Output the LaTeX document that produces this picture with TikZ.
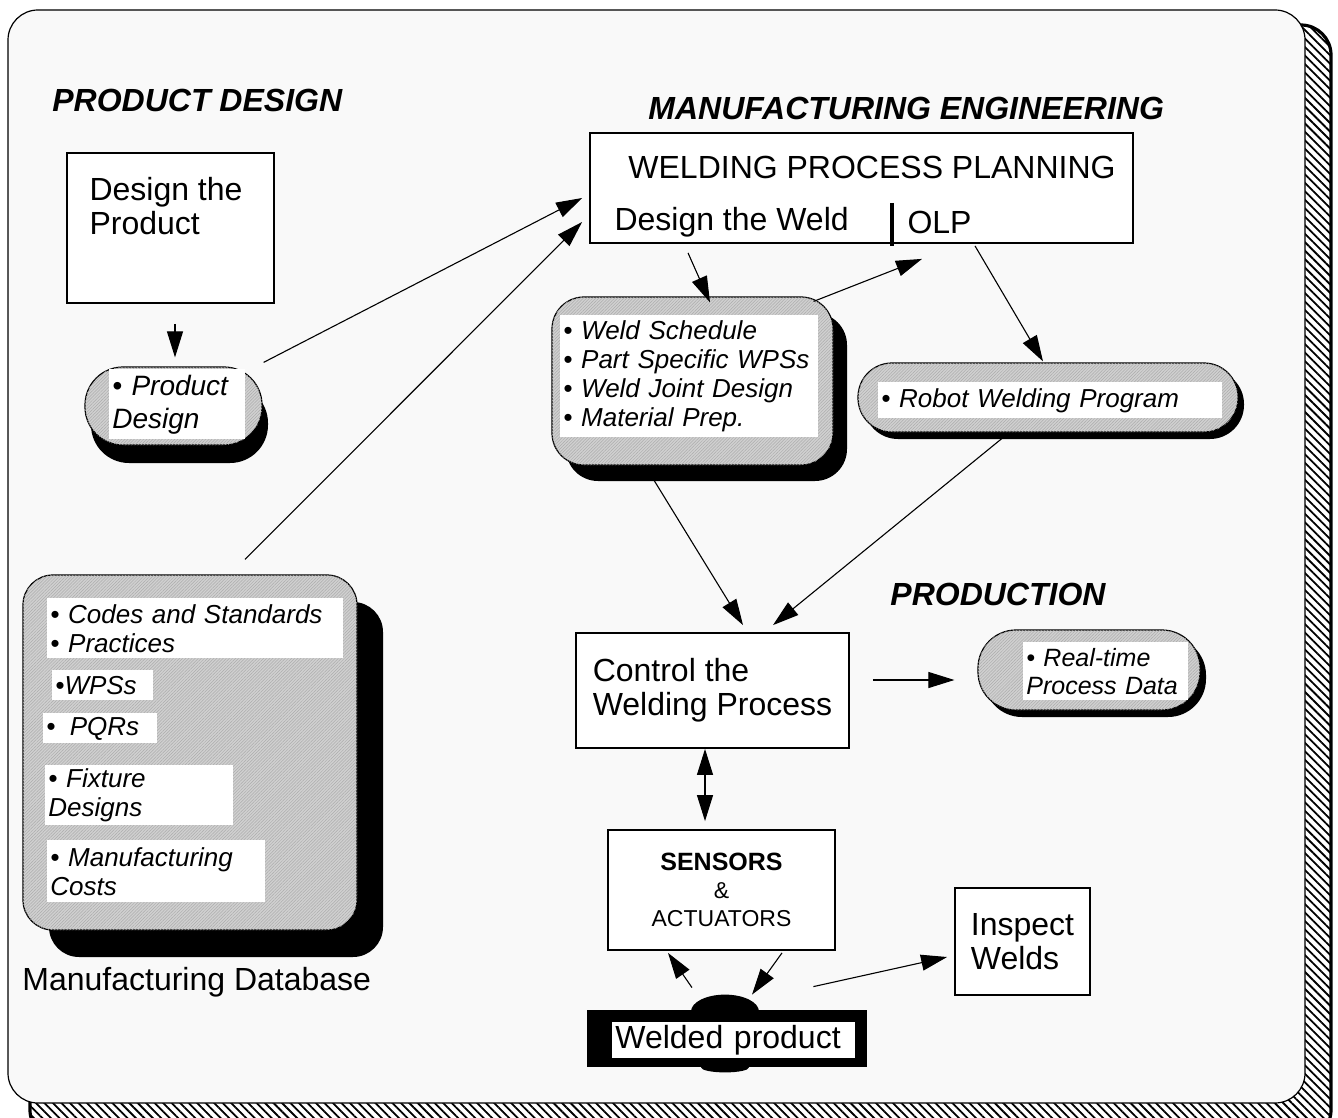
\documentclass[tikz,border=0pt]{standalone}
\usepackage{fontspec}
\setmainfont{Liberation Sans}
\usetikzlibrary{arrows.meta}
\usetikzlibrary{shadows}
\usetikzlibrary{patterns,patterns.meta}
\usetikzlibrary{positioning}
\definecolor{paper}{RGB}{249,249,249}
\definecolor{blob}{RGB}{208,208,208}
\newcommand{\boxfont}{\fontsize{16}{17}\selectfont}
\tikzset{
	flowbox/.style={draw,line width=0.9pt,fill=white,inner sep=0pt},
	grayblob/.style={draw,line width=0.6pt,fill=blob,inner sep=0pt,
		postaction={pattern={Lines[angle=45,distance=1.1pt,line width=0.25pt]},pattern color=gray!65}},
	darkshadow/.style 2 args={drop shadow={shadow xshift=#1,shadow yshift=#2,fill=black,opacity=1}},
	tag/.style={fill=white,inner xsep=1.5pt,inner ysep=0pt,anchor=north west,align=left,
		font=\fontsize{13}{14.5}\selectfont\itshape},
	heading/.style={anchor=west,inner sep=0pt,font=\fontsize{16}{18}\selectfont\bfseries\itshape},
	arr/.style={line width=0.55pt,-{Triangle[length=13pt,width=8pt]}},
	dblarr/.style={line width=0.55pt,{Triangle[length=13pt,width=8pt]}-{Triangle[length=13pt,width=8pt]}}
}
\begin{document}
\begin{tikzpicture}[x=0.5pt,y=-0.5pt]
	\useasboundingbox (0,0) rectangle (1338,1118);
	\draw[line width=1.6pt,rounded corners=15pt,
		pattern={Lines[angle=-45,distance=3pt,line width=0.9pt]}]
			(30,25) rectangle (1331,1140);
	\draw[line width=0.6pt,rounded corners=15pt,fill=paper]
			(8,10) rectangle (1305,1103);

	\node[heading] (pdhead) at (52,100) {PRODUCT DESIGN};
	\node[heading] (mehead) at (648,108) {MANUFACTURING ENGINEERING};
	\node[heading] (prhead) at (890,594) {PRODUCTION};

	\node[flowbox,minimum width=103.5pt,minimum height=75pt] (design) at (170.5,228) {};
	\node[anchor=north west,align=left,inner sep=0pt,font=\boxfont] (designtxt)
		at ([shift={(23,25)}]design.north west) {Design the\\Product};

	\node[grayblob,darkshadow={3pt}{-9pt},rounded corners=19pt,
		minimum width=88.5pt,minimum height=39pt] (prod) at (173.5,406) {};
	\node[tag,minimum width=68pt,minimum height=35pt,text width=65pt,
		font=\fontsize{14}{16.5}\selectfont\itshape] (prodtag) at (109,369) {• Product\\Design};

	\node[flowbox,minimum width=271.5pt,minimum height=55pt] (wpp) at (861.5,188) {};
	\node[font=\boxfont,inner sep=0pt] (wpptitle) at ([shift={(10.5,-21)}]wpp.center) {WELDING PROCESS PLANNING};
	\node[anchor=west,inner sep=0pt,font=\boxfont] (weldtxt) at ([shift={(25,34)}]wpp.west) {Design the Weld};
	\node[anchor=west,inner sep=0pt,font=\boxfont] (olptxt) at ([shift={(318,34)}]wpp.west) {OLP};
	\draw[line width=2pt] ([shift={(30.5,-41)}]wpp.south) -- ([shift={(30.5,2)}]wpp.south);

	\node[grayblob,darkshadow={7pt}{-8pt},rounded corners=16pt,
		minimum width=140.5pt,minimum height=84pt] (sched) at (692.5,381) {};
	\node[tag,minimum width=129pt,minimum height=61pt,text width=126pt] (schedtag) at (560,315)
		{• Weld Schedule\\• Part Specific WPSs\\• Weld Joint Design\\• Material Prep.};

	\node[grayblob,darkshadow={3pt}{-3.5pt},rounded corners=17pt,
		minimum width=190pt,minimum height=34.5pt] (robot) at (1048,397.5) {};
	\node[tag,minimum width=172pt,minimum height=18pt,text width=169pt] (robottag) at (878,382)
		{• Robot Welding Program};

	\node[flowbox,minimum width=136.5pt,minimum height=57.5pt,align=left,font=\boxfont] (ctrl)
		at (712.5,690.5) {Control the\\Welding Process};

	\node[grayblob,darkshadow={3pt}{-3.5pt},rounded corners=19pt,
		minimum width=111pt,minimum height=40pt] (rt) at (1089,670) {};
	\node[tag,minimum width=82.5pt,minimum height=29pt,text width=79.5pt,
		font=\fontsize{12.5}{14}\selectfont\itshape] (rttag) at (1023,642) {• Real-time\\Process Data};

	\node[flowbox,minimum width=113.5pt,minimum height=60pt,align=center,
		font=\fontsize{11.5}{14}\selectfont] (sensors) at (721.5,890)
		{{\fontsize{12.5}{14}\selectfont\bfseries SENSORS}\\\&\\ACTUATORS};

	\node[flowbox,minimum width=67.5pt,minimum height=53.5pt,align=left,font=\boxfont] (inspect)
		at (1022.5,941.5) {Inspect\\Welds};

	\node[fill=black,inner sep=0pt,minimum width=140pt,minimum height=28.5pt] (weld) at (727,1038.5) {};
	\fill ([shift={(-2,2)}]weld.north) ellipse [x radius=17pt,y radius=8.5pt];
	\fill ([shift={(-2,0)}]weld.south) ellipse [x radius=12pt,y radius=2.5pt];
	\node[tag,minimum width=121.5pt,minimum height=18pt,text width=118.5pt,font=\boxfont] (weldtag)
		at (612,1022) {Welded product};

	\node[grayblob,darkshadow={13pt}{-13.5pt},rounded corners=15pt,
		minimum width=167pt,minimum height=177.5pt] (db) at (190,752.5) {};
	\node[tag,minimum width=148pt,minimum height=30pt,text width=145pt] (codestag) at (47,598)
		{• Codes and Standards\\• Practices};
	\node[tag,minimum width=50.5pt,minimum height=15pt,text width=47.5pt] (wpstag) at (52,670) {•WPSs};
	\node[tag,minimum width=57pt,minimum height=15pt,text width=54pt] (pqrtag) at (43,713) {•\hspace{0.55em}PQRs};
	\node[tag,minimum width=94pt,minimum height=30pt,text width=91pt] (fixtag) at (45,765)
		{• Fixture\\Designs};
	\node[tag,minimum width=109pt,minimum height=31pt,text width=106pt] (coststag) at (47,840)
		{• Manufacturing\\Costs};
	\node[anchor=west,inner sep=0pt,font=\boxfont] (dbname) at (22,982) {Manufacturing Database};

	\draw[arr] ([shift={(4.5,20)}]design.south) -- ([shift={(1.5,-9)}]prod.north);
	\draw[arr] ([shift={(1,-4)}]prod.north east) -- ([shift={(-7,10)}]wpp.west);
	\draw[arr] ([shift={(55,-15)}]db.north) -- ([shift={(-7,34)}]wpp.west);
	\draw[arr] ([shift={(-173.5,9)}]wpp.south) -- ([shift={(17.5,6)}]sched.north);
	\draw[arr] ([shift={(-20,5)}]sched.north east) -- ([shift={(60.5,15)}]wpp.south);
	\draw[arr] ([shift={(113.5,2)}]wpp.south) -- ([shift={(-5,-1)}]robot.north);
	\draw[arr] ([shift={(-47.5,0)}]sched.south) -- ([shift={(30.5,-7)}]ctrl.north);
	\draw[arr] ([shift={(-45,5)}]robot.south) -- ([shift={(60.5,-7)}]ctrl.north);
	\draw[arr] ([shift={(23,-10.5)}]ctrl.east) -- ([shift={(-23,10)}]rt.west);
	\draw[dblarr] ([shift={(-7.5,0)}]ctrl.south) -- ([shift={(-16.5,-8)}]sensors.north);
	\draw[arr] ([shift={(-35,-22)}]weld.north) -- ([shift={(-53.5,2)}]sensors.south);
	\draw[arr] ([shift={(60.5,2)}]sensors.south) -- ([shift={(25,-15)}]weld.north);
	\draw[arr] ([shift={(-54,-23)}]weld.north east) -- ([shift={(-7,15.5)}]inspect.west);
\end{tikzpicture}
\end{document}
